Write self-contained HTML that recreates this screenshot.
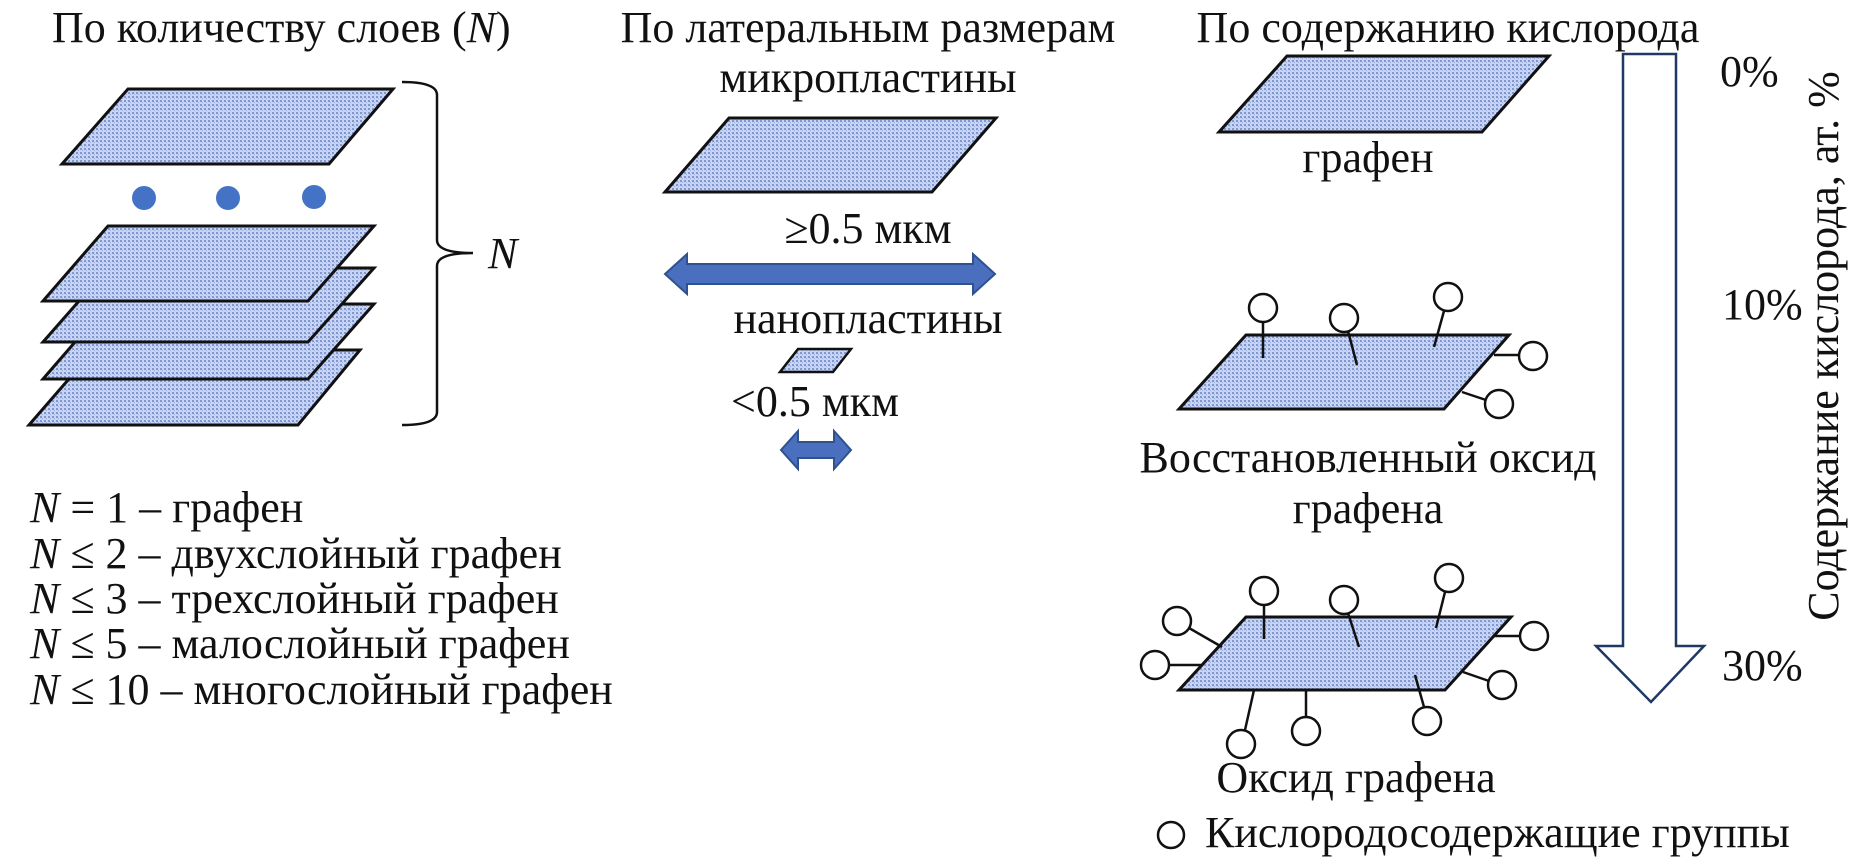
<!DOCTYPE html>
<html><head><meta charset="utf-8"><style>
html,body{margin:0;padding:0;background:#fff;}
svg{display:block;}
text{font-family:"Liberation Serif","Noto Serif CJK SC",serif;fill:#111;font-size:44px;}
</style></head><body>
<svg width="1867" height="863" viewBox="0 0 1867 863" xmlns="http://www.w3.org/2000/svg">
<defs>
<pattern id="dots" width="4" height="4" patternUnits="userSpaceOnUse">
<rect width="4" height="4" fill="#c9d4ee"/>
<rect x="0" y="0" width="2" height="2" fill="#7f97d4"/>
<rect x="2" y="2" width="1" height="1" fill="#9badde"/>
</pattern>
</defs>
<g stroke="#111" stroke-width="3" fill="url(#dots)" stroke-linejoin="miter">
<polygon points="62,164 128,89 393,89 329,164"/>
<polygon points="29,425 94,350 360,350 298,425"/>
<polygon points="43,379 108,304 374,304 308,379"/>
<polygon points="43,342 108,268 374,268 308,342"/>
<polygon points="43,301 108,226 374,226 308,301"/>
<polygon points="665,192 729,118 996,118 932,192"/>
<polygon points="780,372 798,349 851,349 833,372" stroke-width="2.5"/>
<polygon points="1219,132 1287,56 1549,56 1482,132"/>
<polygon points="1179,409 1246,335 1509,335 1444,409"/>
<polygon points="1179,690 1246,617 1511,617 1445,690"/>
</g>
<g fill="#4472c4">
<circle cx="144" cy="198" r="12"/><circle cx="228" cy="198" r="12"/><circle cx="314" cy="197" r="12"/>
</g>
<path d="M402,82 Q437,82 437,95 L437,240 Q437,253 473,253 Q437,253 437,266 L437,412 Q437,425 402,425" fill="none" stroke="#111" stroke-width="2.5"/>
<text x="488" y="268" font-style="italic">N</text>
<text x="52" y="42">По количеству слоев (<tspan font-style="italic">N</tspan>)</text>
<text x="30" y="522"><tspan font-style="italic">N</tspan> = 1 – графен</text>
<text x="30" y="568"><tspan font-style="italic">N</tspan> ≤ 2 – двухслойный графен</text>
<text x="30" y="613"><tspan font-style="italic">N</tspan> ≤ 3 – трехслойный графен</text>
<text x="30" y="658"><tspan font-style="italic">N</tspan> ≤ 5 – малослойный графен</text>
<text x="30" y="704"><tspan font-style="italic">N</tspan> ≤ 10 – многослойный графен</text>
<text x="868" y="42" text-anchor="middle">По латеральным размерам</text>
<text x="868" y="92" text-anchor="middle">микропластины</text>
<text x="868" y="243" text-anchor="middle">≥0.5 мкм</text>
<text x="868" y="333" text-anchor="middle">нанопластины</text>
<text x="815" y="416" text-anchor="middle">&lt;0.5 мкм</text>
<polygon points="665,274 687,254 687,264 973,264 973,254 995,274 973,294 973,284 687,284 687,294" fill="#4a6fbf" stroke="#2f528f" stroke-width="2"/>
<polygon points="781,450 798,431 798,442 834,442 834,431 851,450 834,469 834,458 798,458 798,469" fill="#4a6fbf" stroke="#2f528f" stroke-width="2"/>
<text x="1448" y="42" text-anchor="middle">По содержанию кислорода</text>
<text x="1368" y="172" text-anchor="middle">графен</text>
<text x="1368" y="472" text-anchor="middle">Восстановленный оксид</text>
<text x="1368" y="523" text-anchor="middle">графена</text>
<text x="1356" y="792" text-anchor="middle">Оксид графена</text>
<text x="1205" y="847">Кислородосодержащие группы</text>
<circle cx="1171" cy="835" r="13" fill="#fff" stroke="#111" stroke-width="2.5"/>
<text x="1720" y="86">0%</text>
<text x="1722" y="319">10%</text>
<text x="1722" y="680">30%</text>
<text transform="translate(1838,346) rotate(-90)" text-anchor="middle">Содержание кислорода, ат. %</text>
<polygon points="1623,54 1676,54 1676,646 1704,646 1651,702 1596,646 1623,646" fill="#fff" stroke="#1f3864" stroke-width="2.5"/>
<g stroke="#111" stroke-width="2.5" fill="none">
<line x1="1263" y1="322" x2="1263" y2="358"/>
<line x1="1348" y1="331" x2="1357" y2="365"/>
<line x1="1444" y1="311" x2="1434" y2="347"/>
<line x1="1494" y1="355" x2="1519" y2="355"/>
<line x1="1462" y1="392" x2="1486" y2="400"/>
<line x1="1264" y1="605" x2="1264" y2="639"/>
<line x1="1348" y1="613" x2="1359" y2="647"/>
<line x1="1445" y1="592" x2="1436" y2="628"/>
<line x1="1494" y1="636" x2="1520" y2="636"/>
<line x1="1463" y1="672" x2="1489" y2="681"/>
<line x1="1189" y1="628" x2="1222" y2="647"/>
<line x1="1169" y1="665" x2="1201" y2="665"/>
<line x1="1245" y1="730" x2="1254" y2="690"/>
<line x1="1306" y1="717" x2="1306" y2="690"/>
<line x1="1415" y1="675" x2="1424" y2="707"/>
</g>
<g stroke="#111" stroke-width="2.5" fill="#fff">
<circle cx="1263" cy="308" r="14"/>
<circle cx="1344" cy="318" r="14"/>
<circle cx="1448" cy="297" r="14"/>
<circle cx="1533" cy="356" r="14"/>
<circle cx="1499" cy="404" r="14"/>
<circle cx="1264" cy="591" r="14"/>
<circle cx="1344" cy="600" r="14"/>
<circle cx="1449" cy="578" r="14"/>
<circle cx="1534" cy="636" r="14"/>
<circle cx="1502" cy="685" r="14"/>
<circle cx="1177" cy="621" r="14"/>
<circle cx="1155" cy="665" r="14"/>
<circle cx="1241" cy="744" r="14"/>
<circle cx="1306" cy="731" r="14"/>
<circle cx="1427" cy="721" r="14"/>
</g>
</svg>
</body></html>
